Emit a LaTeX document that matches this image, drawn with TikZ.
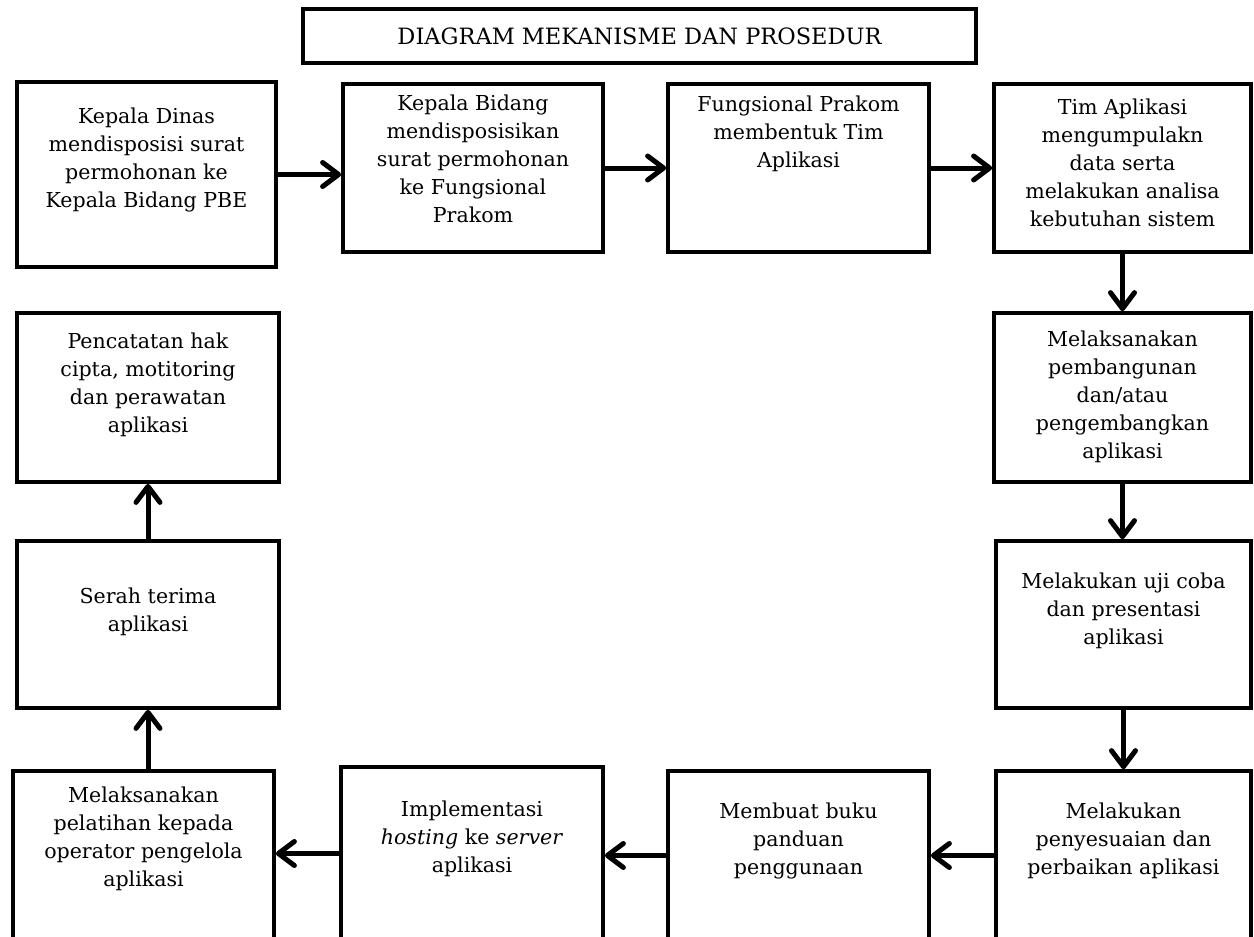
\documentclass[tikz,border=0pt]{standalone}
\usepackage{fontspec}
\setmainfont{DejaVu Serif}
\definecolor{dgInk}{HTML}{000000}
\usetikzlibrary{positioning,arrows.meta}

\begin{document}
\begin{tikzpicture}[x=0.2mm,y=-0.2mm,
                    font=\fontsize{11.7}{16}\selectfont,
                    stepbox/.style={draw=dgInk,line width=0.75mm,inner sep=0pt,
                                    minimum width=52mm,minimum height=33.8mm},
                    steptext/.style={align=center,inner sep=0pt},
                    flow/.style={draw=dgInk,line width=1mm,
                                 -{Straight Barb[length=3.2mm,width=4.8mm,round]}}]
  \useasboundingbox (0,0) rectangle (1254,936);
  \clip (0,0) rectangle (1254,936);
  \node[stepbox,minimum width=134.6mm,minimum height=10.8mm,
        font=\fontsize{12.8}{16}\selectfont] (title) at (639.5,36)
    {DIAGRAM MEKANISME DAN PROSEDUR};
  % top row
  \node[stepbox,minimum width=51.8mm,minimum height=37mm] (dinas) at (146.5,174.5) {};
  \node[stepbox,minimum height=33.6mm] (bidang) at (473,168) {};
  \node[stepbox,minimum width=52.2mm,minimum height=33.6mm] (prakom) at (798.5,168) {};
  \node[stepbox,minimum width=51.4mm,minimum height=33.6mm] (analisa) at (1122.5,168) {};
  % right column
  \node[stepbox,minimum width=51.4mm] (bangun) at (1122.5,397.5) {};
  \node[stepbox,minimum width=51mm,minimum height=33.4mm] (ujicoba) at (1123.5,624.5) {};
  \node[stepbox,minimum width=51mm] (perbaikan) at (1123.5,855.5) {};
  % bottom row
  \node[stepbox,minimum width=52.2mm] (panduan) at (798.5,855.5) {};
  \node[stepbox,minimum width=52.4mm,minimum height=34.6mm] (hosting) at (472,853.5) {};
  \node[stepbox,minimum width=52.2mm] (pelatihan) at (143.5,855.5) {};
  % left column
  \node[stepbox,minimum width=52.4mm,minimum height=33.4mm] (serah) at (148,624.5) {};
  \node[stepbox,minimum width=52.4mm] (hakcipta) at (148,397.5) {};

  \node[steptext,below=5.4mm of dinas.north] (dinasT)
    {Kepala Dinas\\mendisposisi surat\\permohonan ke\\Kepala Bidang PBE};
  \node[steptext,below=2.4mm of bidang.north] (bidangT)
    {Kepala Bidang\\mendisposisikan\\surat permohonan\\ke Fungsional\\Prakom};
  \node[steptext,below=2.6mm of prakom.north] (prakomT)
    {Fungsional Prakom\\membentuk Tim\\Aplikasi};
  \node[steptext,below=3.2mm of analisa.north] (analisaT)
    {Tim Aplikasi\\mengumpulakn\\data serta\\melakukan analisa\\kebutuhan sistem};
  \node[steptext,below=3.8mm of bangun.north] (bangunT)
    {Melaksanakan\\pembangunan\\dan/atau\\pengembangkan\\aplikasi};
  \node[steptext,below=6.6mm of ujicoba.north] (ujicobaT)
    {Melakukan uji coba\\dan presentasi\\aplikasi};
  \node[steptext,below=6.6mm of perbaikan.north] (perbaikanT)
    {Melakukan\\penyesuaian dan\\perbaikan aplikasi};
  \node[steptext,below=6.6mm of panduan.north] (panduanT)
    {Membuat buku\\panduan\\penggunaan};
  \node[steptext,below=7mm of hosting.north] (hostingT)
    {Implementasi\\\textit{hosting} ke \textit{server}\\aplikasi};
  \node[steptext,below=3.4mm of pelatihan.north] (pelatihanT)
    {Melaksanakan\\pelatihan kepada\\operator pengelola\\aplikasi};
  \node[steptext,below=9.6mm of serah.north] (serahT)
    {Serah terima\\aplikasi};
  \node[steptext,below=4.2mm of hakcipta.north] (hakciptaT)
    {Pencatatan hak\\cipta, motitoring\\dan perawatan\\aplikasi};

  \draw[flow] (dinas.east) -- (dinas.east -| bidang.west);
  \draw[flow] (bidang) -- (prakom);
  \draw[flow] (prakom) -- (analisa);
  \draw[flow] (analisa) -- (bangun);
  \draw[flow] (bangun.south) -- (bangun.south |- ujicoba.north);
  \draw[flow] (ujicoba.south) -- (ujicoba.south |- perbaikan.north);
  \draw[flow] (perbaikan) -- (panduan);
  \draw[flow] (panduan.west) -- (panduan.west -| hosting.east);
  \draw[flow] (hosting.west) -- (hosting.west -| pelatihan.east);
  \draw[flow] (pelatihan.north -| serah) -- (serah.south);
  \draw[flow] (serah) -- (hakcipta);
\end{tikzpicture}
\end{document}
